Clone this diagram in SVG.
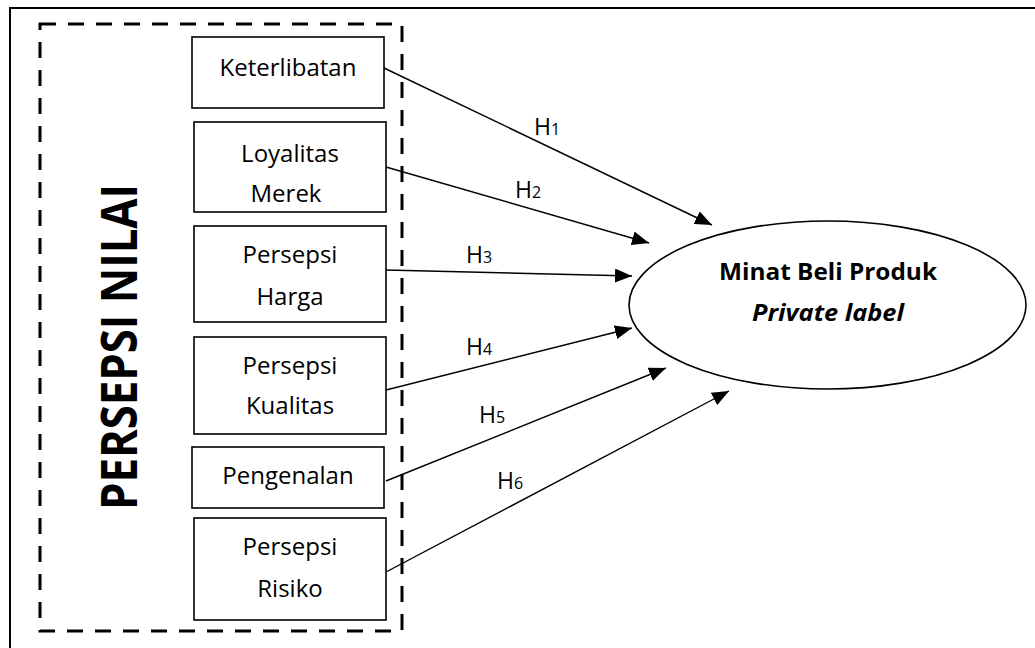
<svg xmlns="http://www.w3.org/2000/svg" width="1035" height="648" viewBox="0 0 1035 648">
<style>
.box{fill:#fff;stroke:#000;stroke-width:1.6}
.lbl{font-family:"Open Sans","Liberation Sans",sans-serif;font-size:24px;fill:#000;text-anchor:middle}
.h{font-family:"Open Sans","Liberation Sans",sans-serif;font-size:23px;fill:#000}
.h tspan{font-size:16px}
.conn{stroke:#000;stroke-width:1.4;fill:none;marker-end:url(#arr)}
</style>
<defs>
<marker id="arr" markerUnits="userSpaceOnUse" markerWidth="18" markerHeight="14" refX="17" refY="7" orient="auto">
<path d="M0,0 L17,7 L0,14 Z" fill="#000"/>
</marker>
</defs>
<rect width="1035" height="648" fill="#fff"/>
<rect x="10" y="8" width="1040" height="660" fill="none" stroke="#000" stroke-width="2"/>
<g id="persepsi-nilai">
<rect x="40" y="24" width="362" height="607" fill="none" stroke="#000" stroke-width="3" stroke-dasharray="16,12"/>
<text transform="translate(137,347) rotate(-90)" text-anchor="middle" font-family="Open Sans, Liberation Sans, sans-serif" font-weight="bold" font-size="50" textLength="326" lengthAdjust="spacingAndGlyphs">PERSEPSI NILAI</text>
</g>
<g id="keterlibatan">
<rect class="box" x="192" y="37" width="192" height="71"/>
<text class="lbl" x="288" y="76">Keterlibatan</text>
</g>
<g id="loyalitas">
<rect class="box" x="194" y="122" width="192" height="90"/>
<text class="lbl" x="290" y="162">Loyalitas</text>
<text class="lbl" x="286" y="202">Merek</text>
</g>
<g id="harga">
<rect class="box" x="194" y="226" width="192" height="96"/>
<text class="lbl" x="290" y="263">Persepsi</text>
<text class="lbl" x="290" y="305">Harga</text>
</g>
<g id="kualitas">
<rect class="box" x="194" y="337" width="192" height="97"/>
<text class="lbl" x="290" y="374">Persepsi</text>
<text class="lbl" x="290" y="414">Kualitas</text>
</g>
<g id="pengenalan">
<rect class="box" x="192" y="447" width="192" height="61"/>
<text class="lbl" x="288" y="484">Pengenalan</text>
</g>
<g id="risiko">
<rect class="box" x="194" y="518" width="192" height="102"/>
<text class="lbl" x="290" y="555">Persepsi</text>
<text class="lbl" x="290" y="597">Risiko</text>
</g>
<g id="minat">
<ellipse cx="827.5" cy="305" rx="198.5" ry="84" fill="#fff" stroke="#000" stroke-width="1.6"/>
<text x="828" y="280" text-anchor="middle" font-family="Open Sans, Liberation Sans, sans-serif" font-weight="bold" font-size="23" textLength="218" lengthAdjust="spacingAndGlyphs">Minat Beli Produk</text>
<text x="828" y="321" text-anchor="middle" font-family="Open Sans, Liberation Sans, sans-serif" font-weight="bold" font-style="italic" font-size="23" textLength="152" lengthAdjust="spacingAndGlyphs">Private label</text>
</g>
<g id="connectors">
<line class="conn" x1="384" y1="68" x2="712" y2="225"/>
<line class="conn" x1="386" y1="167" x2="649" y2="243"/>
<line class="conn" x1="386" y1="270" x2="632" y2="276"/>
<line class="conn" x1="386" y1="390" x2="632" y2="328"/>
<line class="conn" x1="386" y1="481" x2="666" y2="368"/>
<line class="conn" x1="386" y1="572" x2="729" y2="391"/>
<text class="h" x="534" y="135">H<tspan>1</tspan></text>
<text class="h" x="515" y="198">H<tspan>2</tspan></text>
<text class="h" x="466" y="263">H<tspan>3</tspan></text>
<text class="h" x="466" y="355">H<tspan>4</tspan></text>
<text class="h" x="479" y="423">H<tspan>5</tspan></text>
<text class="h" x="497" y="489">H<tspan>6</tspan></text>
</g>
</svg>
